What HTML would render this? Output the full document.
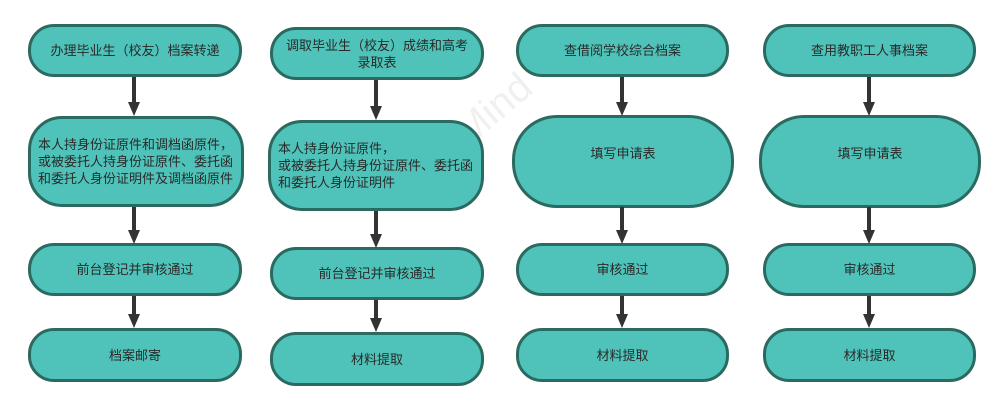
<!DOCTYPE html>
<html><head><meta charset="utf-8"><style>
body{margin:0;width:1004px;height:408px;background:#fff;position:relative;overflow:hidden;font-family:"Liberation Sans","Noto Sans CJK SC",sans-serif;}
.b{position:absolute;box-sizing:border-box;background:#4fc3b9;border:3px solid #2b6a60;border-radius:26px;display:flex;align-items:center;justify-content:center;text-align:center;font-size:13px;color:#2a2a2a;line-height:17px;}
.t{border-radius:34px;text-align:left;justify-content:flex-start;padding-left:7px;}
.p{border-radius:45px;padding-bottom:16px;}
.l{position:absolute;width:4px;background:#333;}
.h{position:absolute;width:0;height:0;border-left:6px solid transparent;border-right:6px solid transparent;border-top:14px solid #333;}
.wm{position:absolute;left:360px;top:120px;color:rgba(0,0,0,0.06);font-size:40px;transform:rotate(-40deg);}
</style></head><body>
<div class="wm">WPS Mind</div>

<div class="b" style="left:28px;top:24px;width:214px;height:53px">办理毕业生（校友）档案转递</div>
<div class="b t" style="left:28px;top:116px;width:216px;height:91px">本人持身份证原件和调档函原件，<br>或被委托人持身份证原件、委托函<br>和委托人身份证明件及调档函原件</div>
<div class="b" style="left:28px;top:243px;width:214px;height:53px">前台登记并审核通过</div>
<div class="b" style="left:28px;top:328px;width:214px;height:54px">档案邮寄</div>

<div class="b" style="left:270px;top:27px;width:214px;height:53px">调取毕业生（校友）成绩和高考<br>录取表</div>
<div class="b t" style="left:268px;top:120px;width:216px;height:91px">本人持身份证原件，<br>或被委托人持身份证原件、委托函<br>和委托人身份证明件</div>
<div class="b" style="left:270px;top:247px;width:214px;height:53px">前台登记并审核通过</div>
<div class="b" style="left:270px;top:332px;width:214px;height:54px">材料提取</div>

<div class="b" style="left:516px;top:24px;width:213px;height:53px">查借阅学校综合档案</div>
<div class="b p" style="left:512px;top:115px;width:222px;height:93px">填写申请表</div>
<div class="b" style="left:516px;top:243px;width:213px;height:53px">审核通过</div>
<div class="b" style="left:516px;top:328px;width:213px;height:54px">材料提取</div>

<div class="b" style="left:763px;top:24px;width:213px;height:53px">查用教职工人事档案</div>
<div class="b p" style="left:759px;top:115px;width:222px;height:93px">填写申请表</div>
<div class="b" style="left:763px;top:243px;width:213px;height:53px">审核通过</div>
<div class="b" style="left:763px;top:328px;width:213px;height:54px">材料提取</div>

<div class="l" style="left:132px;top:77px;height:26px"></div><div class="h" style="left:128px;top:102px"></div>
<div class="l" style="left:132px;top:207px;height:24px"></div><div class="h" style="left:128px;top:230px"></div>
<div class="l" style="left:132px;top:296px;height:20px"></div><div class="h" style="left:128px;top:314px"></div>
<div class="l" style="left:374px;top:80px;height:27px"></div><div class="h" style="left:370px;top:106px"></div>
<div class="l" style="left:374px;top:211px;height:24px"></div><div class="h" style="left:370px;top:234px"></div>
<div class="l" style="left:374px;top:300px;height:20px"></div><div class="h" style="left:370px;top:318px"></div>
<div class="l" style="left:620px;top:77px;height:26px"></div><div class="h" style="left:616px;top:102px"></div>
<div class="l" style="left:620px;top:207px;height:24px"></div><div class="h" style="left:616px;top:230px"></div>
<div class="l" style="left:620px;top:296px;height:20px"></div><div class="h" style="left:616px;top:314px"></div>
<div class="l" style="left:867px;top:77px;height:26px"></div><div class="h" style="left:863px;top:102px"></div>
<div class="l" style="left:867px;top:207px;height:24px"></div><div class="h" style="left:863px;top:230px"></div>
<div class="l" style="left:867px;top:296px;height:20px"></div><div class="h" style="left:863px;top:314px"></div>
</body></html>
